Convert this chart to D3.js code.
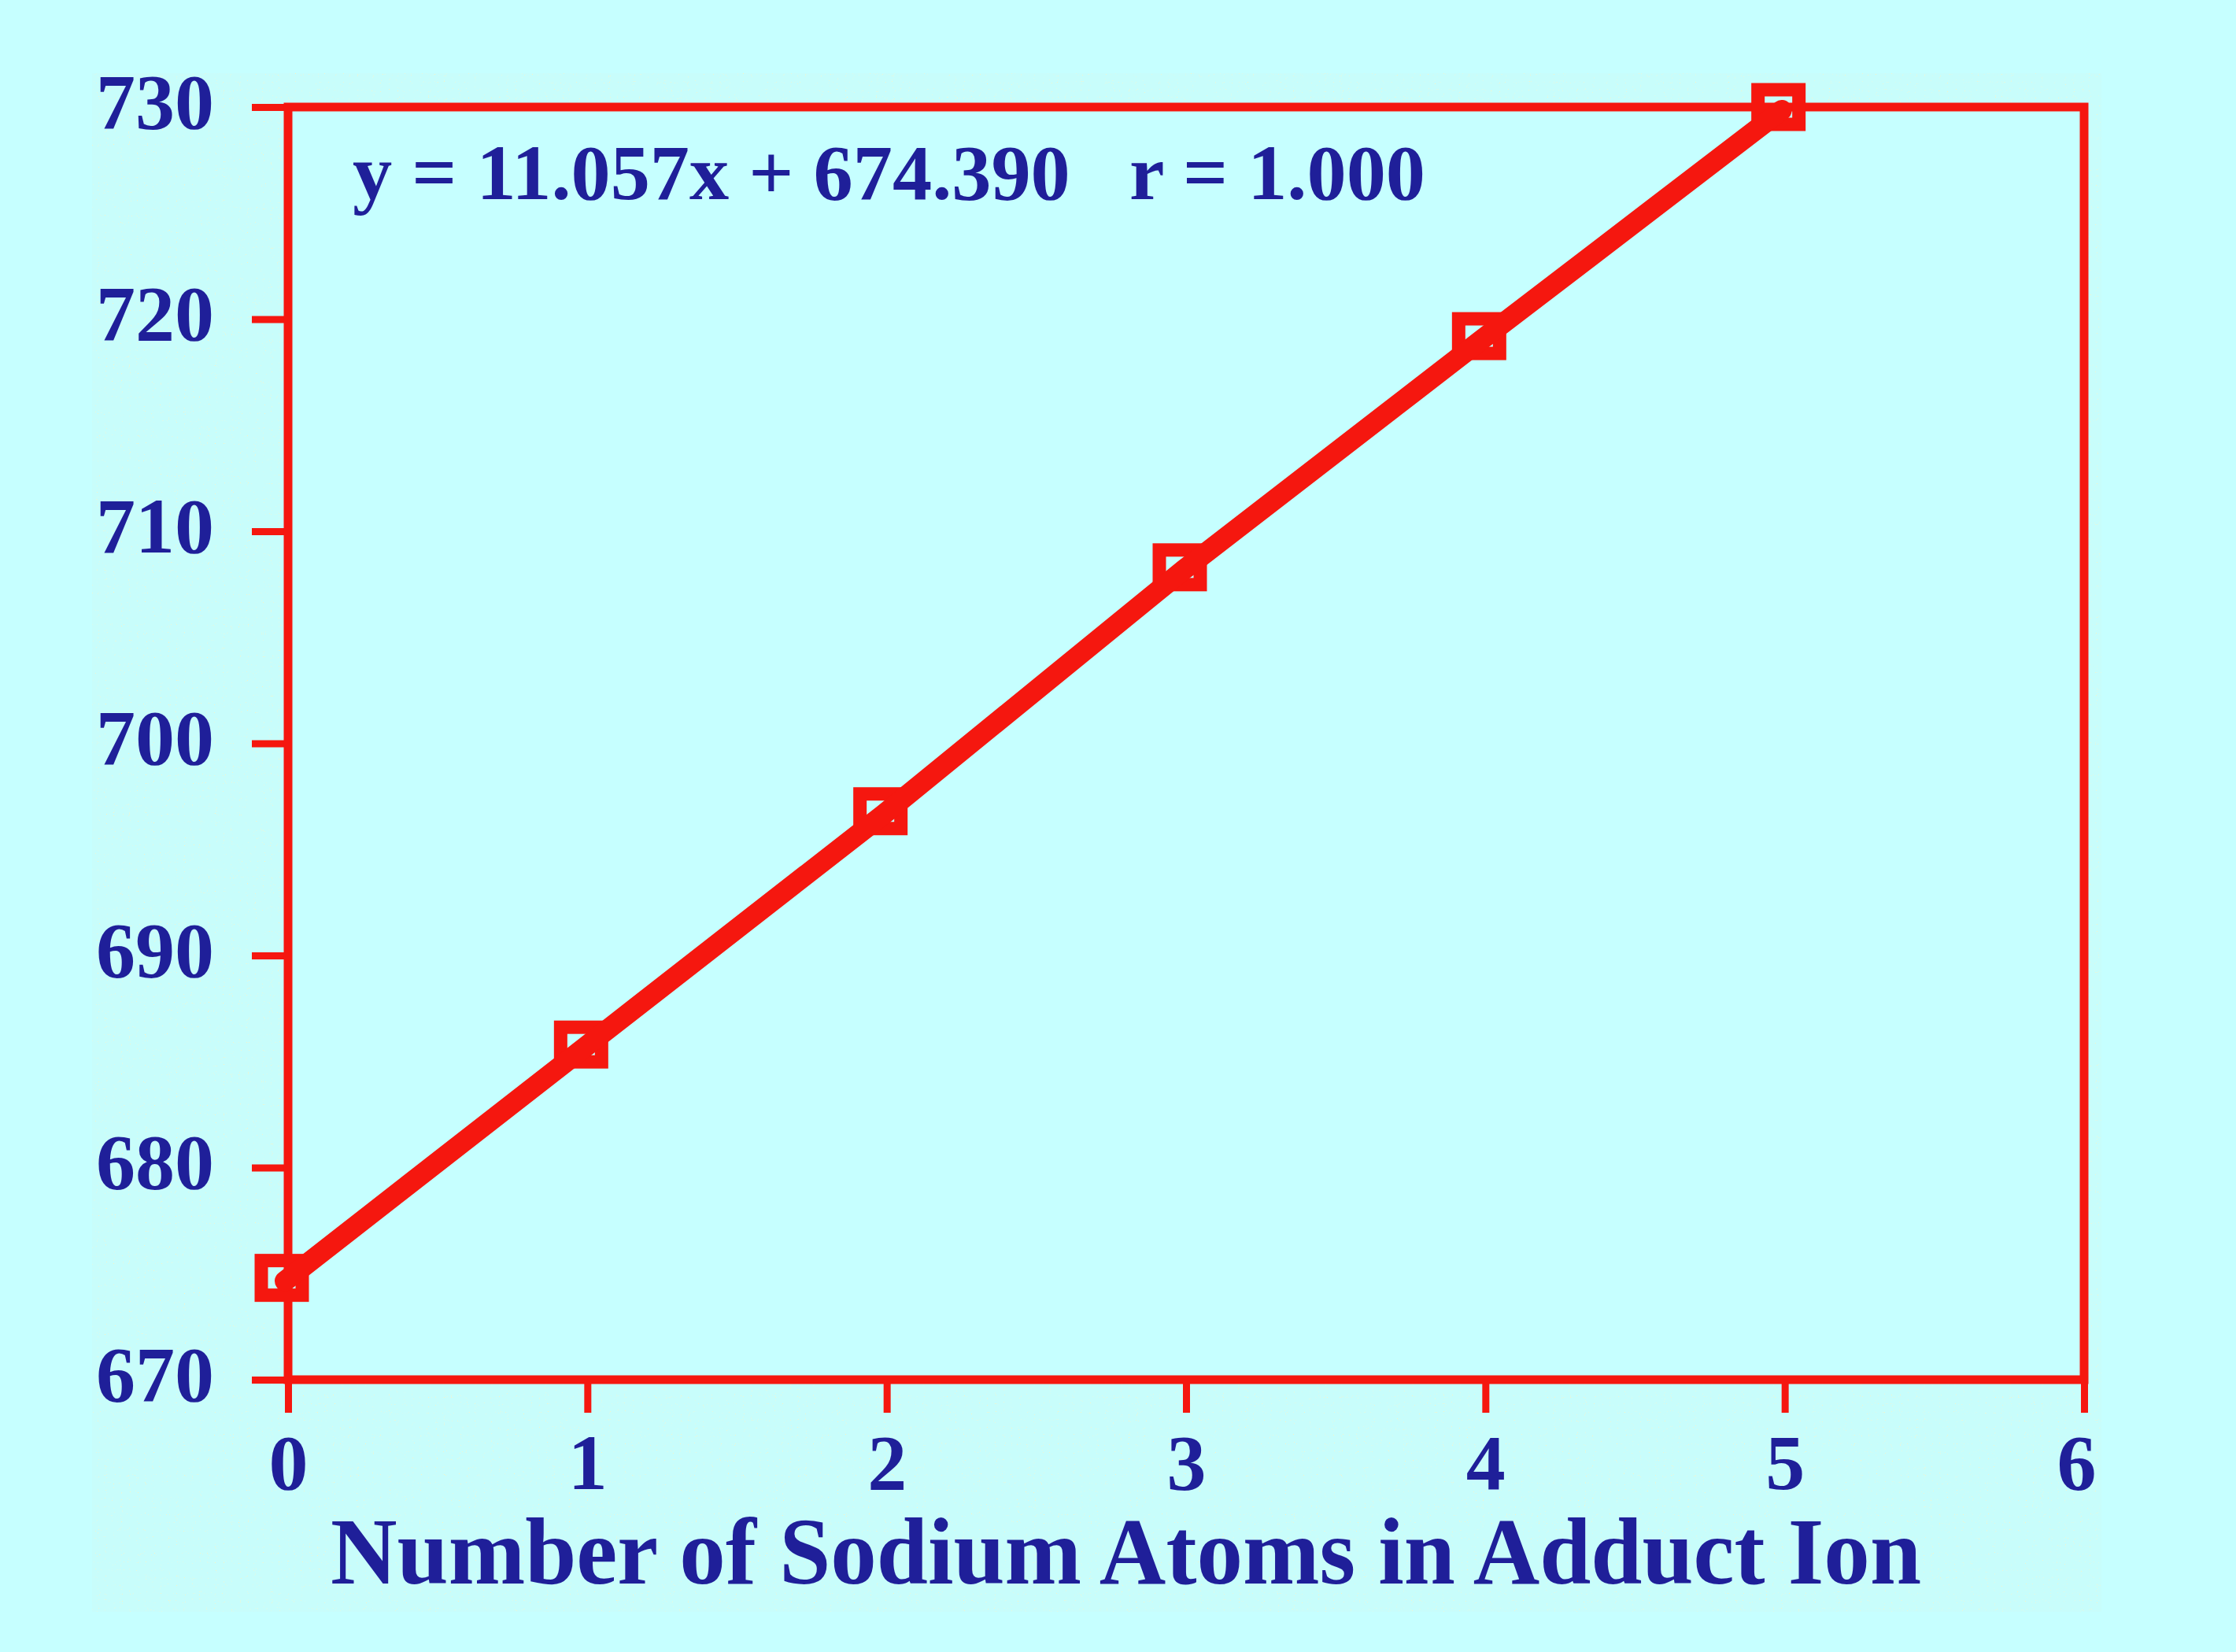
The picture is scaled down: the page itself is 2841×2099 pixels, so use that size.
<!DOCTYPE html>
<html>
<head>
<meta charset="utf-8">
<script src="https://cdn.jsdelivr.net/npm/d3@7"></script>
<style>
  html, body { margin: 0; padding: 0; background: #c6ffff; }
  svg { display: block; }
</style>
</head>
<body>
<div id="chart"></div>
<script>
// data
let sodiumCount = [0, 1, 2, 3, 4, 5];
let adductMass = [674.8, 685.8, 696.8, 708.3, 719.2, 730.0];
let xTicks = [0, 1, 2, 3, 4, 5, 6];
let yTicks = [670, 680, 690, 700, 710, 720, 730];
let equationText = "y = 11.057x + 674.390   r = 1.000";
let xTitle = "Number of Sodium Atoms in Adduct Ion";

const width = 2841, height = 2099;
const plot = {left: 366, right: 2648, top: 136, bottom: 1753};
const red = "#f5170f", navy = "#1f1f99", bg = "#c6ffff";
const font = "'Liberation Serif', 'Times New Roman', serif";

let svg = d3.select("#chart").append("svg")
    .attr("width", width)
    .attr("height", height);

svg.append("rect")
    .attr("width", width).attr("height", height)
    .attr("fill", bg);

// scanned, slightly speckled panel behind the chart
let defs = svg.append("defs");
let noise = defs.append("filter").attr("id", "speckle")
    .attr("x", 0).attr("y", 0).attr("width", "100%").attr("height", "100%");
noise.append("feTurbulence").attr("type", "fractalNoise")
    .attr("baseFrequency", 0.9).attr("numOctaves", 1).attr("seed", 3).attr("result", "n");
noise.append("feColorMatrix").attr("in", "n").attr("type", "matrix")
    .attr("values", "0 0 0 0 0.95  0 0 0 0 0.9  0 0 0 0 0.55  0 0 0 9 -6.2")
    .attr("result", "dots");
noise.append("feComposite").attr("in", "dots").attr("in2", "SourceGraphic").attr("operator", "over");

svg.append("rect")
    .attr("x", 117).attr("y", 93)
    .attr("width", 2670 - 117).attr("height", 2048 - 93)
    .attr("fill", "#c8fdfb")
    .attr("filter", "url(#speckle)");

let xScale = d3.scaleLinear()
    .domain([0, 6])
    .range([plot.left, plot.right]);

let yScale = d3.scaleLinear()
    .domain([670, 730])
    .range([plot.bottom, plot.top]);

// plain plot area
svg.append("rect")
    .attr("x", plot.left).attr("y", plot.top)
    .attr("width", plot.right - plot.left).attr("height", plot.bottom - plot.top)
    .attr("fill", bg);

// axes
let xAxis = svg.append("g")
    .attr("transform", "translate(0," + plot.bottom + ")")
    .call(d3.axisBottom(xScale).tickValues(xTicks).tickSize(42).tickPadding(26).tickFormat(d3.format("d")));

let yAxis = svg.append("g")
    .attr("transform", "translate(" + plot.left + ",0)")
    .call(d3.axisLeft(yScale).tickValues(yTicks).tickSize(46).tickPadding(48).tickFormat(d3.format("d")));

[xAxis, yAxis].forEach(function (ax) {
    ax.select(".domain").remove();
    ax.selectAll(".tick line").attr("stroke", red).attr("stroke-width", 9);
    ax.selectAll(".tick text")
        .attr("fill", navy)
        .attr("font-family", font)
        .attr("font-weight", "bold")
        .attr("font-size", 100);
});
yAxis.selectAll(".tick text").attr("dy", "0.26em");
xAxis.selectAll(".tick text").attr("dy", "0.71em");
// the last label sits a little left of its tick, like the original
xAxis.selectAll(".tick text").filter(d => d === 6).attr("x", -10);

// frame
svg.append("rect")
    .attr("x", plot.left).attr("y", plot.top)
    .attr("width", plot.right - plot.left).attr("height", plot.bottom - plot.top)
    .attr("fill", "none")
    .attr("stroke", red)
    .attr("stroke-width", 11);

let points = sodiumCount.map((d, i) => ({x: d, y: adductMass[i]}));

// square markers, under the line
svg.selectAll(".marker")
    .data(points)
    .enter()
    .append("rect")
    .attr("class", "marker")
    .attr("x", d => xScale(d.x) - 8 - 26)
    .attr("y", d => yScale(d.y) - 22)
    .attr("width", 52)
    .attr("height", 44)
    .attr("fill", "none")
    .attr("stroke", red)
    .attr("stroke-width", 17);

let line = d3.line()
    .x(d => xScale(d.x) - 4)
    .y(d => yScale(d.y) + 4);

svg.append("path")
    .attr("d", line(points))
    .attr("fill", "none")
    .attr("stroke", red)
    .attr("stroke-width", 26)
    .attr("stroke-linecap", "round")
    .attr("stroke-linejoin", "round");

// regression note
svg.append("text")
    .attr("x", 448)
    .attr("y", 253)
    .attr("fill", navy)
    .attr("font-family", font)
    .attr("font-weight", "bold")
    .attr("font-size", 100)
    .attr("textLength", 1363)
    .attr("lengthAdjust", "spacingAndGlyphs")
    .style("white-space", "pre")
    .text(equationText);

// x axis title
svg.append("text")
    .attr("x", 420)
    .attr("y", 2012)
    .attr("fill", navy)
    .attr("font-family", font)
    .attr("font-weight", "bold")
    .attr("font-size", 121)
    .attr("textLength", 2021)
    .attr("lengthAdjust", "spacingAndGlyphs")
    .text(xTitle);
</script>
</body>
</html>
